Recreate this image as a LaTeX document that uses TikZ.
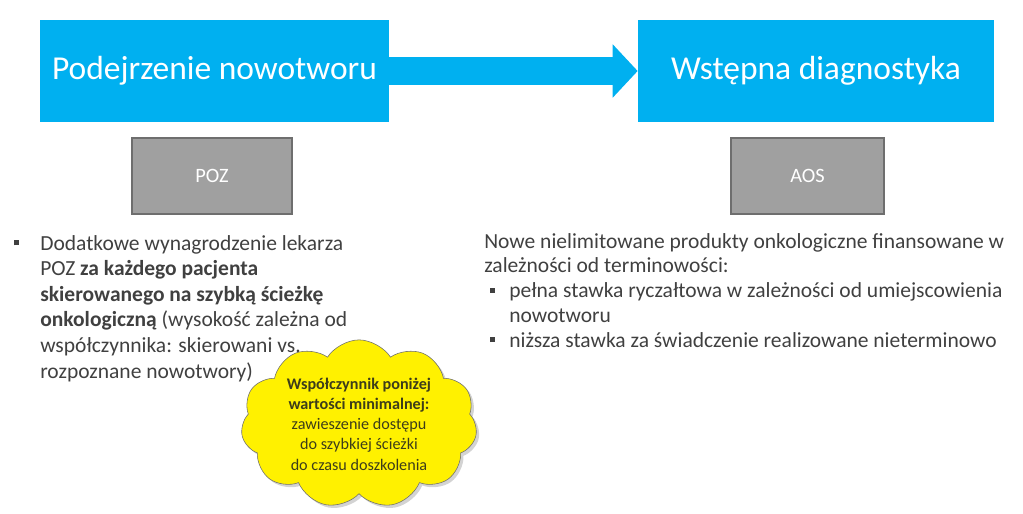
\documentclass[tikz,border=0pt]{standalone}
\usepackage{fontspec}
\setmainfont{Carlito}
\usepackage{xcolor}
\usepackage{tikz}
\usetikzlibrary{positioning, calc, arrows.meta}
\usetikzlibrary{shapes.symbols, shadows}
\definecolor{niebieski}{HTML}{00B0F0}
\definecolor{szary}{HTML}{A0A0A0}
\definecolor{ramka}{HTML}{6E6E6E}
\definecolor{tekst}{HTML}{404040}
\definecolor{zolty}{HTML}{FFF100}
\definecolor{chmurka}{HTML}{3D3D1A}
\newcommand{\kwadrat}{\rule[3.4pt]{3.6pt}{3.6pt}}

\begin{document}
\begin{tikzpicture}[x=0.025cm,y=-0.025cm,
  etap/.style={fill=niebieski,text=white,minimum height=2.55cm,inner sep=0pt,
    font=\fontsize{23.8}{28}\selectfont},
  miejsce/.style={draw=ramka,line width=1.8pt,fill=szary,text=white,
    minimum height=1.9cm,inner sep=0pt,font=\fontsize{14.5}{17}\selectfont},
  opis/.style={align=left,inner sep=0pt,anchor=base west,text=tekst,
    font=\fontsize{15.3}{18.2}\selectfont}]
  \useasboundingbox (0,0) rectangle (1023,513);
  \node[etap,minimum width=8.725cm] (podej) at (214.5,71) {Podejrzenie nowotworu};
  \node[etap,minimum width=8.9cm] (wstep) at (816,71) {Wstępna diagnostyka};
  \draw[niebieski,line width=0.675cm,-{Triangle[length=0.625cm,width=1.3cm]}] (podej.east) -- (wstep.west);
%--------------------------------------------------------------------------------
  \node[miejsce,minimum width=4cm] (poz) at (212,176) {POZ};
  \node[miejsce,minimum width=3.825cm] (aos) at (807.5,176) {AOS};
%--------------------------------------------------------------------------------
  \node[opis] (lewy) at (40,378) {\llap{\kwadrat\hspace*{14.9pt}}Dodatkowe wynagrodzenie lekarza\\
    POZ \textbf{za każdego pacjenta}\\
    \textbf{skierowanego na szybką ścieżkę}\\
    \textbf{onkologiczną} (wysokość zależna od\\
    współczynnika: skierowani vs.\\
    rozpoznane nowotwory)};
  \node[opis,font=\fontsize{15.3}{17.6}\selectfont] (prawy) at (484,347) {Nowe nielimitowane produkty onkologiczne finansowane w\\
    zależności od terminowości:\\
    \makebox[17.8pt][l]{\hspace*{4.3pt}\kwadrat}pełna stawka ryczałtowa w zależności od umiejscowienia\\
    \hspace*{17.8pt}nowotworu\\
    \makebox[17.8pt][l]{\hspace*{4.3pt}\kwadrat}niższa stawka za świadczenie realizowane nieterminowo};
%--------------------------------------------------------------------------------
  \node[cloud,cloud puffs=11,cloud puff arc=115,aspect=1.43,draw=ramka,fill=zolty,
    drop shadow={opacity=0.35,shadow xshift=2pt,shadow yshift=-2pt},
    minimum width=5.9cm,minimum height=4.1cm,inner sep=0pt,align=center,
    text=chmurka,font=\fontsize{11.5}{14.4}\selectfont] (wsp) at (359,424)
    {\textbf{Współczynnik poniżej}\\ \textbf{wartości minimalnej:}\\
     zawieszenie dostępu\\ do szybkiej ścieżki\\ do czasu doszkolenia};
\end{tikzpicture}
\end{document}
